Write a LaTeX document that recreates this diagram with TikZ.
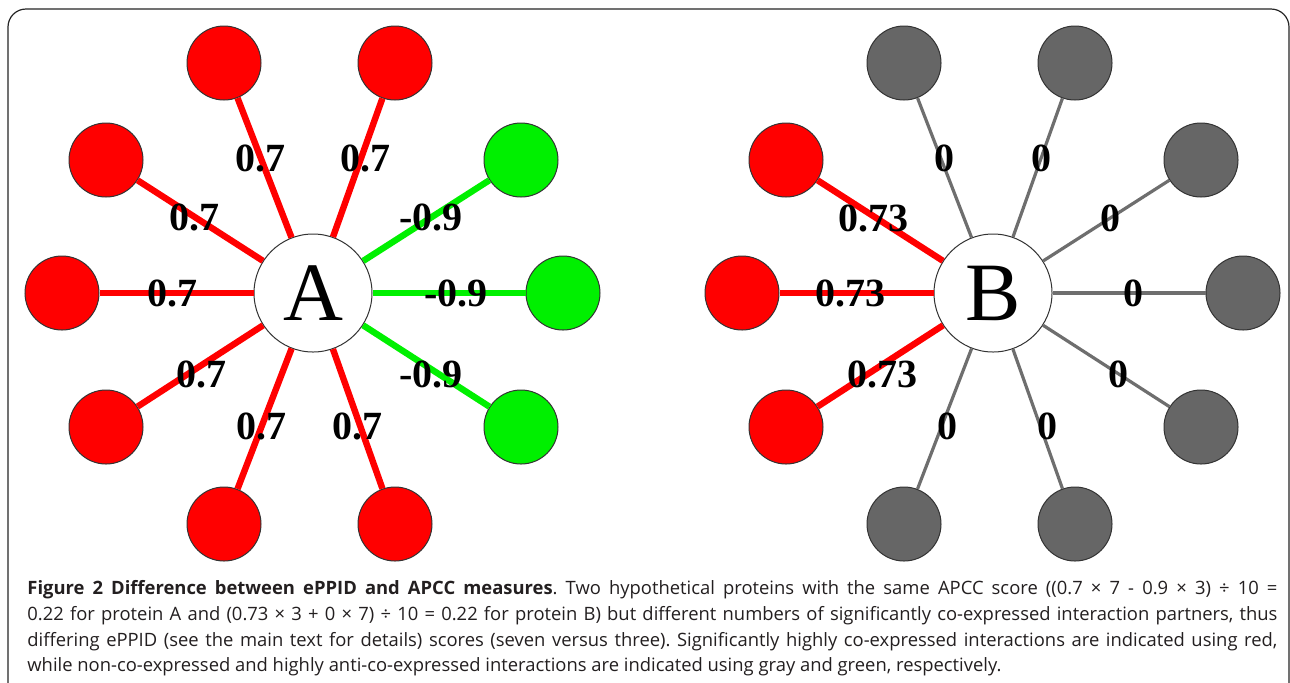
\documentclass[tikz,border=0pt]{standalone}
\usepackage{fontspec}
\setmainfont{Liberation Serif}
\newfontfamily\capfont{Open Sans}
\frenchspacing
\definecolor{nred}{HTML}{FF0000}
\definecolor{ngreen}{HTML}{00F000}
\definecolor{ngray}{HTML}{666666}
\definecolor{egray}{HTML}{6E6E6E}
\definecolor{captxt}{HTML}{231F20}
\tikzset{
  hub/.style={circle,draw=black!80,line width=0.5pt,fill=white,minimum size=59pt,inner sep=0pt,font=\fontsize{41.5}{41.5}\selectfont},
  leaf/.style={circle,draw=black!80,line width=0.5pt,minimum size=37pt,inner sep=0pt},
  redleaf/.style={leaf,fill=nred},
  greenleaf/.style={leaf,fill=ngreen},
  grayleaf/.style={leaf,fill=ngray},
  rededge/.style={draw=nred,line width=3.2pt},
  greenedge/.style={draw=ngreen,line width=3.2pt},
  grayedge/.style={draw=egray,line width=1.6pt},
  wlabel/.style={inner sep=0pt,font=\fontsize{20}{20}\selectfont\bfseries},
  capline/.style={anchor=base west,inner sep=0pt,text=captxt,font=\capfont\fontsize{9.2}{11}\selectfont}
}
\begin{document}
\begin{tikzpicture}[x=0.5pt,y=-0.5pt]
\useasboundingbox (0,0) rectangle (1290,682);
\clip (0,0) rectangle (1290,682);
\fill[white] (0,0) rectangle (1290,682);
\draw[black!85,line width=0.6pt,rounded corners=9pt] (8,9) rectangle (1289,760);

% ---------- protein A ----------
\node[hub] (A) at (313,293) {A};
\node[redleaf] (a1) at (224,63) {};
\node[redleaf] (a2) at (395,63) {};
\node[redleaf] (a3) at (106,160) {};
\node[greenleaf] (a4) at (521,160) {};
\node[redleaf] (a5) at (62,293) {};
\node[greenleaf] (a6) at (563,293) {};
\node[redleaf] (a7) at (106,427) {};
\node[greenleaf] (a8) at (521,427) {};
\node[redleaf] (a9) at (224,524) {};
\node[redleaf] (a10) at (395,524) {};
\path[rededge] (A) -- (a1);
\path[rededge] (A) -- (a2);
\path[rededge] (A) -- (a3);
\path[greenedge] (A) -- (a4);
\path[rededge] (A) -- (a5);
\path[greenedge] (A) -- (a6);
\path[rededge] (A) -- (a7);
\path[greenedge] (A) -- (a8);
\path[rededge] (A) -- (a9);
\path[rededge] (A) -- (a10);
\node[wlabel] (la1) at (260,158) {0.7};
\node[wlabel] (la2) at (365,158) {0.7};
\node[wlabel] (la3) at (194,217) {0.7};
\node[wlabel] (la4) at (431,217) {-0.9};
\node[wlabel] (la5) at (172,293) {0.7};
\node[wlabel] (la6) at (456,293) {-0.9};
\node[wlabel] (la7) at (201,374) {0.7};
\node[wlabel] (la8) at (431,374) {-0.9};
\node[wlabel] (la9) at (261,426) {0.7};
\node[wlabel] (la10) at (357,426) {0.7};

% ---------- protein B ----------
\node[hub] (B) at (993,293) {B};
\node[grayleaf] (b1) at (904,63) {};
\node[grayleaf] (b2) at (1075,63) {};
\node[redleaf] (b3) at (786,160) {};
\node[grayleaf] (b4) at (1201,160) {};
\node[redleaf] (b5) at (742,293) {};
\node[grayleaf] (b6) at (1243,293) {};
\node[redleaf] (b7) at (786,427) {};
\node[grayleaf] (b8) at (1201,427) {};
\node[grayleaf] (b9) at (904,524) {};
\node[grayleaf] (b10) at (1075,524) {};
\path[grayedge] (B) -- (b1);
\path[grayedge] (B) -- (b2);
\path[rededge] (B) -- (b3);
\path[grayedge] (B) -- (b4);
\path[rededge] (B) -- (b5);
\path[grayedge] (B) -- (b6);
\path[rededge] (B) -- (b7);
\path[grayedge] (B) -- (b8);
\path[grayedge] (B) -- (b9);
\path[grayedge] (B) -- (b10);
\node[wlabel] (lb1) at (944,158) {0};
\node[wlabel] (lb2) at (1041,158) {0};
\node[wlabel] (lb3) at (873,218) {0.73};
\node[wlabel] (lb4) at (1110,218) {0};
\node[wlabel] (lb5) at (850,293) {0.73};
\node[wlabel] (lb6) at (1133,293) {0};
\node[wlabel] (lb7) at (882,374) {0.73};
\node[wlabel] (lb8) at (1118,374) {0};
\node[wlabel] (lb9) at (947,426) {0};
\node[wlabel] (lb10) at (1047,426) {0};

% ---------- caption ----------
\node[capline] (c1) at (27,594) {\makebox[625pt][s]{\textbf{Figure 2 Difference between ePPID and APCC measures}. Two hypothetical proteins with the same APCC score ((0.7 × 7 - 0.9 × 3) ÷ 10 =}};
\node[capline] (c2) at (27,620) {\makebox[625pt][s]{0.22 for protein A and (0.73 × 3 + 0 × 7) ÷ 10 = 0.22 for protein B) but different numbers of significantly co-expressed interaction partners, thus}};
\node[capline] (c3) at (27,646) {\makebox[625pt][s]{differing ePPID (see the main text for details) scores (seven versus three). Significantly highly co-expressed interactions are indicated using red,}};
\node[capline] (c4) at (27,671) {while non-co-expressed and highly anti-co-expressed interactions are indicated using gray and green, respectively.};
\end{tikzpicture}
\end{document}
